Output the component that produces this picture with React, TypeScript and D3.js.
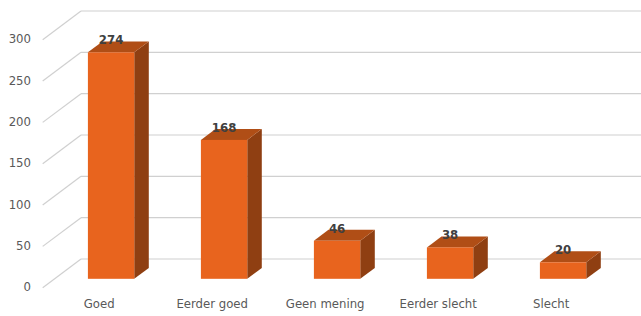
import * as d3 from 'd3';

const categories = ['Goed', 'Eerder goed', 'Geen mening', 'Eerder slecht', 'Slecht'];
const values = [274, 168, 46, 38, 20];
const yTicks = [0, 50, 100, 150, 200, 250, 300];

const W = 641;
const H = 316;
// depth of the 3d box
const DX = 38.3;
const DY = -28.7;
const D0 = 0.31;
const D1 = 0.69;

export default function App() {
  const x = d3.scaleBand<string>()
    .domain(categories)
    .range([42.7, 607.7])
    .paddingInner(0.59)
    .paddingOuter(0.295);
  const y = d3.scaleLinear().domain([0, 300]).range([287.7, 39.7]);

  const font = '"DejaVu Sans Condensed", "DejaVu Sans", sans-serif';

  return (
    <svg width={W} height={H} style={{ position: 'absolute', left: 0, top: 0 }} fontFamily={font}>
      <rect width={W} height={H} fill="#fff" />
      {yTicks.map(t => (
        <g key={t}>
          <line x1={42.7 + DX} x2={W} y1={y(t) + DY} y2={y(t) + DY} stroke="#d0d0d0" strokeWidth={1.2} />
          <line x1={42.7} x2={42.7 + DX} y1={y(t)} y2={y(t) + DY} stroke="#d0d0d0" strokeWidth={1.2} />
          <text x={31} y={y(t)} textAnchor="end" dominantBaseline="middle" fontSize={13} fill="#595959">{t}</text>
        </g>
      ))}
      {categories.map((c, i) => {
        const v = values[i];
        const bw = x.bandwidth();
        const fx = x(c)! + D0 * DX;
        const fTop = y(v) + D0 * DY;
        const fBot = y(0) + D0 * DY;
        const dx = (D1 - D0) * DX;
        const dy = (D1 - D0) * DY;
        const top = `M${fx},${fTop} L${fx + dx},${fTop + dy} L${fx + bw + dx},${fTop + dy} L${fx + bw},${fTop} Z`;
        const side = `M${fx + bw},${fTop} L${fx + bw + dx},${fTop + dy} L${fx + bw + dx},${fBot + dy} L${fx + bw},${fBot} Z`;
        return (
          <g key={c}>
            <path d={side} fill="#8f3f12" />
            <path d={top} fill="#b04e16" />
            <rect x={fx} y={fTop} width={bw} height={fBot - fTop} fill="#e8641e" />
            <text x={fx + bw / 2} y={fTop - 8} textAnchor="middle" fontSize={13} fontWeight="bold" fill="#404040">{v}</text>
            <text x={x(c)! + bw / 2} y={304} textAnchor="middle" dominantBaseline="middle" fontSize={13} fill="#595959">{c}</text>
          </g>
        );
      })}
    </svg>
  );
}
